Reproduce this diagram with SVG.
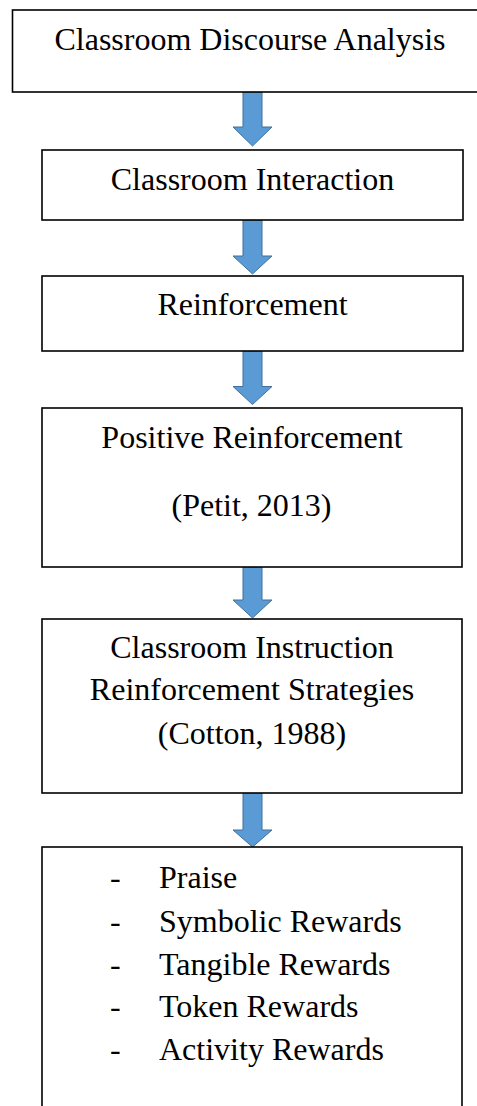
<svg xmlns="http://www.w3.org/2000/svg" width="477" height="1106" viewBox="0 0 477 1106">
  <style>
    .box { fill: #ffffff; stroke: #000000; stroke-width: 1.6; }
    .arrow { fill: #5B9BD5; stroke: #41719C; stroke-width: 1; stroke-linejoin: miter; }
    text { font-family: "Liberation Serif", "Times New Roman", serif; font-size: 32px; fill: #000000; }
    .c { text-anchor: middle; }
  </style>
  <rect width="477" height="1106" fill="#ffffff"/>

  <!-- block arrows between the stages -->
  <g id="connectors">
    <path class="arrow" d="M243,92 H262 V127 H272 L252.5,146 L233,127 H243 Z"/>
    <path class="arrow" d="M243,220 H262 V256 H272 L252.5,274 L233,256 H243 Z"/>
    <path class="arrow" d="M243,351 H262 V386.5 H272 L252.5,404.5 L233,386.5 H243 Z"/>
    <path class="arrow" d="M243,567 H262 V600 H272 L252.5,618 L233,600 H243 Z"/>
    <path class="arrow" d="M243,793 H262 V830 H272 L252.5,847 L233,830 H243 Z"/>
  </g>

  <g id="discourse-analysis">
    <rect class="box" x="12.5" y="10" width="480" height="82"/>
    <text class="c" x="250" y="50">Classroom Discourse Analysis</text>
  </g>

  <g id="classroom-interaction">
    <rect class="box" x="42" y="150" width="421" height="70"/>
    <text class="c" x="252.5" y="190">Classroom Interaction</text>
  </g>

  <g id="reinforcement">
    <rect class="box" x="42" y="276" width="421" height="75"/>
    <text class="c" x="252.5" y="315">Reinforcement</text>
  </g>

  <g id="positive-reinforcement">
    <rect class="box" x="42" y="408" width="420" height="159"/>
    <text class="c" x="252" y="448">Positive Reinforcement</text>
    <text class="c" x="251.5" y="516">(Petit, 2013)</text>
  </g>

  <g id="instruction-strategies">
    <rect class="box" x="42" y="619" width="420" height="174"/>
    <text class="c" x="252" y="658">Classroom Instruction</text>
    <text class="c" x="252" y="700">Reinforcement Strategies</text>
    <text class="c" x="252" y="744">(Cotton, 1988)</text>
  </g>

  <g id="reward-types">
    <rect class="box" x="42" y="847" width="420" height="275"/>
    <text x="110" y="888">-</text>
    <text x="159" y="888">Praise</text>
    <text x="110" y="931.5">-</text>
    <text x="159" y="931.5">Symbolic Rewards</text>
    <text x="110" y="975">-</text>
    <text x="159" y="975">Tangible Rewards</text>
    <text x="110" y="1017">-</text>
    <text x="159" y="1017">Token Rewards</text>
    <text x="110" y="1060">-</text>
    <text x="159" y="1060">Activity Rewards</text>
  </g>
</svg>
